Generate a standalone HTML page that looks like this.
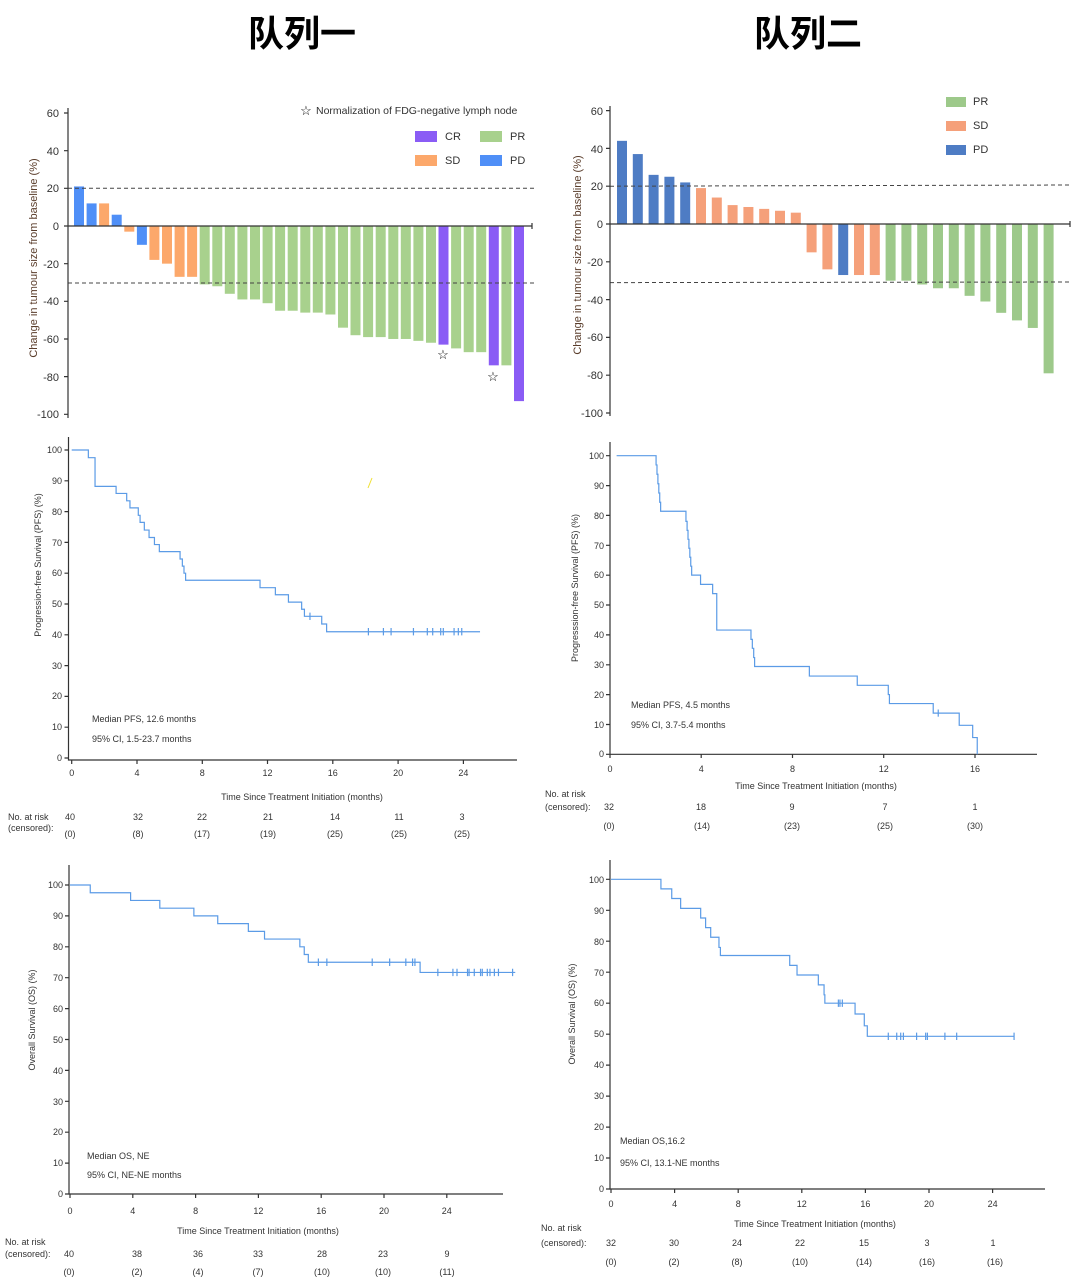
<!DOCTYPE html>
<html><head><meta charset="utf-8"><style>
html,body{margin:0;padding:0;background:#fff;}
svg{display:block;font-family:"Liberation Sans",Arial,sans-serif;}
.t{font-size:9px;fill:#333;}
.w{font-size:11px;fill:#333;}
.km{fill:none;stroke:#5b9be6;stroke-width:1.2;}
.ax{stroke:#333;stroke-width:1.2;fill:none;}
</style></head><body>
<svg width="1080" height="1285" viewBox="0 0 1080 1285" xmlns="http://www.w3.org/2000/svg">
<rect width="1080" height="1285" fill="#fff"/>
<text x="302" y="46" text-anchor="middle" style="font-family:'Noto Sans CJK SC',sans-serif;font-size:36px;font-weight:bold" fill="#000">队列一</text>
<text x="808" y="46" text-anchor="middle" style="font-family:'Noto Sans CJK SC',sans-serif;font-size:36px;font-weight:bold" fill="#000">队列二</text>

<!-- LEFT WATERFALL -->
<g transform="translate(0,226) scale(1,-1.883)">
<rect x="74" y="0" width="10" height="21" fill="#4f8ff7"/>
<rect x="86.6" y="0" width="10" height="12" fill="#4f8ff7"/>
<rect x="99.1" y="0" width="10" height="12" fill="#fca86b"/>
<rect x="111.7" y="0" width="10" height="6" fill="#4f8ff7"/>
<rect x="124.3" y="-3" width="10" height="3" fill="#fca86b"/>
<rect x="136.9" y="-10" width="10" height="10" fill="#4f8ff7"/>
<rect x="149.4" y="-18" width="10" height="18" fill="#fca86b"/>
<rect x="162" y="-20" width="10" height="20" fill="#fca86b"/>
<rect x="174.6" y="-27" width="10" height="27" fill="#fca86b"/>
<rect x="187.1" y="-27" width="10" height="27" fill="#fca86b"/>
<g fill="#a8d18d">
<rect x="199.7" y="-31" width="10" height="31"/>
<rect x="212.3" y="-32" width="10" height="32"/>
<rect x="224.8" y="-36" width="10" height="36"/>
<rect x="237.4" y="-39" width="10" height="39"/>
<rect x="250" y="-39" width="10" height="39"/>
<rect x="262.6" y="-41" width="10" height="41"/>
<rect x="275.1" y="-45" width="10" height="45"/>
<rect x="287.7" y="-45" width="10" height="45"/>
<rect x="300.3" y="-46" width="10" height="46"/>
<rect x="312.8" y="-46" width="10" height="46"/>
<rect x="325.4" y="-47" width="10" height="47"/>
<rect x="338" y="-54" width="10" height="54"/>
<rect x="350.5" y="-58" width="10" height="58"/>
<rect x="363.1" y="-59" width="10" height="59"/>
<rect x="375.7" y="-59" width="10" height="59"/>
<rect x="388.3" y="-60" width="10" height="60"/>
<rect x="400.8" y="-60" width="10" height="60"/>
<rect x="413.4" y="-61" width="10" height="61"/>
<rect x="426" y="-62" width="10" height="62"/>
<rect x="451.1" y="-65" width="10" height="65"/>
<rect x="463.7" y="-67" width="10" height="67"/>
<rect x="476.2" y="-67" width="10" height="67"/>
<rect x="501.4" y="-74" width="10" height="74"/>
</g>
<g fill="#8a5cf5">
<rect x="438.5" y="-63" width="10" height="63"/>
<rect x="488.8" y="-74" width="10" height="74"/>
<rect x="514" y="-93" width="10" height="93"/>
</g>
</g>
<line x1="68" y1="188.3" x2="535" y2="188.3" stroke="#444" stroke-dasharray="4,3" stroke-width="1"/>
<line x1="68" y1="283" x2="537" y2="283" stroke="#444" stroke-dasharray="4,3" stroke-width="1"/>
<path class="ax" d="M68,108 V418 M68,226 H532 M532,223 V229"/>
<g class="ax"><path d="M64,113H68M64,150.7H68M64,188.3H68M64,226H68M64,263.7H68M64,301.3H68M64,339H68M64,376.6H68M64,414.3H68"/></g>
<g class="w" text-anchor="end">
<text x="59" y="117">60</text><text x="59" y="155">40</text><text x="59" y="192">20</text><text x="59" y="230">0</text><text x="59" y="268">-20</text><text x="59" y="305">-40</text><text x="59" y="343">-60</text><text x="59" y="381">-80</text><text x="59" y="418">-100</text>
</g>
<text transform="translate(37,258) rotate(-90)" text-anchor="middle" style="font-size:11px" fill="#5a3d2b">Change in tumour size from baseline (%)</text>
<text x="443" y="359" text-anchor="middle" style="font-size:13px" fill="#000">☆</text>
<text x="493" y="381" text-anchor="middle" style="font-size:13px" fill="#000">☆</text>
<text x="306" y="115" text-anchor="middle" style="font-size:13px" fill="#000">☆</text>
<text x="316" y="114" style="font-size:10.5px" fill="#333">Normalization of FDG-negative lymph node</text>
<rect x="415" y="131" width="22" height="11" fill="#8a5cf5"/><text x="445" y="140" class="w">CR</text>
<rect x="480" y="131" width="22" height="11" fill="#a8d18d"/><text x="510" y="140" class="w">PR</text>
<rect x="415" y="155" width="22" height="11" fill="#fca86b"/><text x="445" y="164" class="w">SD</text>
<rect x="480" y="155" width="22" height="11" fill="#4f8ff7"/><text x="510" y="164" class="w">PD</text>

<!-- RIGHT WATERFALL -->
<g transform="translate(0,224) scale(1,-1.89)">
<g fill="#4e7cc4">
<rect x="617" y="0" width="10" height="44"/>
<rect x="632.8" y="0" width="10" height="37"/>
<rect x="648.6" y="0" width="10" height="26"/>
<rect x="664.4" y="0" width="10" height="25"/>
<rect x="680.2" y="0" width="10" height="22"/>
<rect x="838.2" y="-27" width="10" height="27"/>
</g>
<g fill="#f5a07a">
<rect x="696" y="0" width="10" height="19"/>
<rect x="711.8" y="0" width="10" height="14"/>
<rect x="727.6" y="0" width="10" height="10"/>
<rect x="743.4" y="0" width="10" height="9"/>
<rect x="759.2" y="0" width="10" height="8"/>
<rect x="775" y="0" width="10" height="7"/>
<rect x="790.8" y="0" width="10" height="6"/>
<rect x="806.6" y="-15" width="10" height="15"/>
<rect x="822.4" y="-24" width="10" height="24"/>
<rect x="854" y="-27" width="10" height="27"/>
<rect x="869.8" y="-27" width="10" height="27"/>
</g>
<g fill="#9dc98a">
<rect x="885.6" y="-30" width="10" height="30"/>
<rect x="901.4" y="-30" width="10" height="30"/>
<rect x="917.2" y="-32" width="10" height="32"/>
<rect x="933" y="-34" width="10" height="34"/>
<rect x="948.8" y="-34" width="10" height="34"/>
<rect x="964.6" y="-38" width="10" height="38"/>
<rect x="980.4" y="-41" width="10" height="41"/>
<rect x="996.2" y="-47" width="10" height="47"/>
<rect x="1012" y="-51" width="10" height="51"/>
<rect x="1027.8" y="-55" width="10" height="55"/>
<rect x="1043.6" y="-79" width="10" height="79"/>
</g>
</g>
<line x1="610" y1="186.2" x2="1072" y2="185" stroke="#444" stroke-dasharray="4,3" stroke-width="1"/>
<line x1="610" y1="282.6" x2="1072" y2="282" stroke="#444" stroke-dasharray="4,3" stroke-width="1"/>
<path class="ax" d="M610,106 V416 M610,224 H1070 M1070,221 V227"/>
<g class="ax"><path d="M606,110.6H610M606,148.4H610M606,186.2H610M606,224H610M606,261.8H610M606,299.6H610M606,337.4H610M606,375.2H610M606,413H610"/></g>
<g class="w" text-anchor="end">
<text x="603" y="115">60</text><text x="603" y="153">40</text><text x="603" y="190">20</text><text x="603" y="228">0</text><text x="603" y="266">-20</text><text x="603" y="304">-40</text><text x="603" y="341">-60</text><text x="603" y="379">-80</text><text x="603" y="417">-100</text>
</g>
<text transform="translate(581,255) rotate(-90)" text-anchor="middle" style="font-size:11px" fill="#5a3d2b">Change in tumour size from baseline (%)</text>
<rect x="946" y="97" width="20" height="10" fill="#9dc98a"/><text x="973" y="105" class="w">PR</text>
<rect x="946" y="121" width="20" height="10" fill="#f5a07a"/><text x="973" y="129" class="w">SD</text>
<rect x="946" y="145" width="20" height="10" fill="#4e7cc4"/><text x="973" y="153" class="w">PD</text>

<!-- LEFT PFS -->
<path class="ax" d="M68.5,437 V760 H517"/>
<path class="ax" d="M64.5,450H68.5M64.5,480.8H68.5M64.5,511.6H68.5M64.5,542.4H68.5M64.5,573.2H68.5M64.5,604H68.5M64.5,634.8H68.5M64.5,665.6H68.5M64.5,696.4H68.5M64.5,727.2H68.5M64.5,758H68.5 M71.7,760V764M137,760V764M202.3,760V764M267.5,760V764M332.8,760V764M398.1,760V764M463.4,760V764"/>
<g class="t" text-anchor="end">
<text x="62" y="453">100</text><text x="62" y="484">90</text><text x="62" y="515">80</text><text x="62" y="546">70</text><text x="62" y="576">60</text><text x="62" y="607">50</text><text x="62" y="638">40</text><text x="62" y="669">30</text><text x="62" y="699">20</text><text x="62" y="730">10</text><text x="62" y="761">0</text>
</g>
<g class="t" text-anchor="middle">
<text x="71.7" y="776">0</text><text x="137" y="776">4</text><text x="202.3" y="776">8</text><text x="267.5" y="776">12</text><text x="332.8" y="776">16</text><text x="398.1" y="776">20</text><text x="463.4" y="776">24</text>
<text x="302" y="800">Time Since Treatment Initiation (months)</text>
<text x="70" y="820">40</text><text x="138" y="820">32</text><text x="202" y="820">22</text><text x="268" y="820">21</text><text x="335" y="820">14</text><text x="399" y="820">11</text><text x="462" y="820">3</text>
<text x="70" y="837">(0)</text><text x="138" y="837">(8)</text><text x="202" y="837">(17)</text><text x="268" y="837">(19)</text><text x="335" y="837">(25)</text><text x="399" y="837">(25)</text><text x="462" y="837">(25)</text>
</g>
<text x="8" y="820" class="t">No. at risk</text><text x="8" y="831" class="t">(censored):</text>
<text x="92" y="722" class="t">Median PFS, 12.6 months</text>
<text x="92" y="742" class="t">95% CI, 1.5-23.7 months</text>
<text transform="translate(41,565) rotate(-90)" text-anchor="middle" class="t">Progression-free Survival (PFS) (%)</text>
<line x1="368" y1="488" x2="372" y2="478" stroke="#f0e030" stroke-width="1"/>
<g transform="translate(71.7,758) scale(16.32,-3.08)">
<path class="km" vector-effect="non-scaling-stroke" d="M0,100 H1.02 V97.5 H1.43 V88.2 H2.72 V85.9 H3.37 V83.5 H3.57 V81.2 H4.08 V78.8 H4.19 V76.5 H4.45 V74 H4.74 V71.6 H5.07 V69.3 H5.37 V67 H6.64 V64.6 H6.78 V62.3 H6.88 V60 H6.98 V57.7 H11.54 V55.3 H12.48 V53 H13.28 V50.6 H14.09 V48.3 H14.26 V46 H15.32 V43.5 H15.62 V41 H25.02"/>
<path class="km" vector-effect="non-scaling-stroke" d="M14.6,44.8v2.4 M18.18,39.8v2.4 M19.1,39.8v2.4 M19.57,39.8v2.4 M20.94,39.8v2.4 M21.79,39.8v2.4 M22.12,39.8v2.4 M22.61,39.8v2.4 M22.77,39.8v2.4 M23.43,39.8v2.4 M23.69,39.8v2.4 M23.9,39.8v2.4"/>
</g>

<!-- RIGHT PFS -->
<path class="ax" d="M610,442 V754.3 H1037"/>
<path class="ax" d="M606,455.7H610M606,485.6H610M606,515.4H610M606,545.3H610M606,575.2H610M606,605H610M606,634.9H610M606,664.8H610M606,694.6H610M606,724.5H610M606,754.3H610 M610,754.3V758M701.2,754.3V758M792.5,754.3V758M883.7,754.3V758M975,754.3V758"/>
<g class="t" text-anchor="end">
<text x="604" y="459">100</text><text x="604" y="489">90</text><text x="604" y="519">80</text><text x="604" y="549">70</text><text x="604" y="578">60</text><text x="604" y="608">50</text><text x="604" y="638">40</text><text x="604" y="668">30</text><text x="604" y="698">20</text><text x="604" y="728">10</text><text x="604" y="757">0</text>
</g>
<g class="t" text-anchor="middle">
<text x="610" y="772">0</text><text x="701.2" y="772">4</text><text x="792.5" y="772">8</text><text x="883.7" y="772">12</text><text x="975" y="772">16</text>
<text x="816" y="789">Time Since Treatment Initiation (months)</text>
<text x="609" y="810">32</text><text x="701" y="810">18</text><text x="792" y="810">9</text><text x="885" y="810">7</text><text x="975" y="810">1</text>
<text x="609" y="829">(0)</text><text x="702" y="829">(14)</text><text x="792" y="829">(23)</text><text x="885" y="829">(25)</text><text x="975" y="829">(30)</text>
</g>
<text x="545" y="797" class="t">No. at risk</text><text x="545" y="810" class="t">(censored):</text>
<text x="631" y="708" class="t">Median PFS, 4.5 months</text>
<text x="631" y="728" class="t">95% CI, 3.7-5.4 months</text>
<text transform="translate(578,588) rotate(-90)" text-anchor="middle" class="t">Progresssion-free Survival (PFS) (%)</text>
<g transform="translate(610,754.3) scale(22.81,-2.986)">
<path class="km" vector-effect="non-scaling-stroke" d="M0.29,100 H2.02 V96.9 H2.06 V93.8 H2.1 V90.6 H2.14 V87.5 H2.18 V84.4 H2.22 V81.4 H3.33 V78 H3.38 V75 H3.42 V72 H3.46 V69 H3.5 V66 H3.54 V63 H3.58 V60 H3.97 V56.9 H4.5 V53.8 H4.68 V41.6 H6.18 V38.5 H6.24 V35.5 H6.3 V32.4 H6.34 V29.4 H8.74 V26.2 H10.84 V23.1 H12.2 V20 H12.25 V17 H14.17 V13.8 H15.31 V9.7 H15.9 V5.6 H16.1 V0"/>
<path class="km" vector-effect="non-scaling-stroke" d="M14.39,12.6v2.4"/>
</g>

<!-- LEFT OS -->
<path class="ax" d="M69,865 V1194 H503"/>
<path class="ax" d="M65,885H69M65,915.9H69M65,946.8H69M65,977.7H69M65,1008.6H69M65,1039.5H69M65,1070.4H69M65,1101.3H69M65,1132.2H69M65,1163.1H69M65,1194H69 M70,1194V1198M132.8,1194V1198M195.6,1194V1198M258.4,1194V1198M321.2,1194V1198M384,1194V1198M446.8,1194V1198"/>
<g class="t" text-anchor="end">
<text x="63" y="888">100</text><text x="63" y="919">90</text><text x="63" y="950">80</text><text x="63" y="981">70</text><text x="63" y="1012">60</text><text x="63" y="1043">50</text><text x="63" y="1074">40</text><text x="63" y="1105">30</text><text x="63" y="1135">20</text><text x="63" y="1166">10</text><text x="63" y="1197">0</text>
</g>
<g class="t" text-anchor="middle">
<text x="70" y="1214">0</text><text x="132.8" y="1214">4</text><text x="195.6" y="1214">8</text><text x="258.4" y="1214">12</text><text x="321.2" y="1214">16</text><text x="384" y="1214">20</text><text x="446.8" y="1214">24</text>
<text x="258" y="1234">Time Since Treatment Initiation (months)</text>
<text x="69" y="1257">40</text><text x="137" y="1257">38</text><text x="198" y="1257">36</text><text x="258" y="1257">33</text><text x="322" y="1257">28</text><text x="383" y="1257">23</text><text x="447" y="1257">9</text>
<text x="69" y="1275">(0)</text><text x="137" y="1275">(2)</text><text x="198" y="1275">(4)</text><text x="258" y="1275">(7)</text><text x="322" y="1275">(10)</text><text x="383" y="1275">(10)</text><text x="447" y="1275">(11)</text>
</g>
<text x="5" y="1245" class="t">No. at risk</text><text x="5" y="1257" class="t">(censored):</text>
<text x="87" y="1159" class="t">Median OS, NE</text>
<text x="87" y="1178" class="t">95% CI, NE-NE months</text>
<text transform="translate(35,1020) rotate(-90)" text-anchor="middle" class="t">Overall Survival (OS) (%)</text>
<g transform="translate(70,1194) scale(15.7,-3.09)">
<path class="km" vector-effect="non-scaling-stroke" d="M0,100 H1.29 V97.5 H3.86 V95 H5.72 V92.5 H7.89 V90 H9.41 V87.5 H11.36 V85 H12.39 V82.5 H14.64 V80 H14.92 V77.5 H15.18 V75 H22.3 V71.7 H28.36"/>
<path class="km" vector-effect="non-scaling-stroke" d="M15.82,73.8v2.4 M16.36,73.8v2.4 M19.25,73.8v2.4 M20.36,73.8v2.4 M21.39,73.8v2.4 M21.82,73.8v2.4 M21.97,73.8v2.4 M23.43,70.5v2.4 M24.39,70.5v2.4 M24.65,70.5v2.4 M25.32,70.5v2.4 M25.42,70.5v2.4 M25.75,70.5v2.4 M26.15,70.5v2.4 M26.26,70.5v2.4 M26.58,70.5v2.4 M26.75,70.5v2.4 M27.03,70.5v2.4 M27.29,70.5v2.4 M28.19,70.5v2.4"/>
</g>

<!-- RIGHT OS -->
<path class="ax" d="M610,860 V1189 H1045"/>
<path class="ax" d="M606,879.3H610M606,910.3H610M606,941.2H610M606,972.2H610M606,1003.2H610M606,1034.2H610M606,1065.1H610M606,1096.1H610M606,1127.1H610M606,1158H610M606,1189H610 M611,1189V1193M674.6,1189V1193M738.2,1189V1193M801.8,1189V1193M865.4,1189V1193M929,1189V1193M992.6,1189V1193"/>
<g class="t" text-anchor="end">
<text x="604" y="883">100</text><text x="604" y="914">90</text><text x="604" y="945">80</text><text x="604" y="976">70</text><text x="604" y="1006">60</text><text x="604" y="1037">50</text><text x="604" y="1068">40</text><text x="604" y="1099">30</text><text x="604" y="1130">20</text><text x="604" y="1161">10</text><text x="604" y="1192">0</text>
</g>
<g class="t" text-anchor="middle">
<text x="611" y="1207">0</text><text x="674.6" y="1207">4</text><text x="738.2" y="1207">8</text><text x="801.8" y="1207">12</text><text x="865.4" y="1207">16</text><text x="929" y="1207">20</text><text x="992.6" y="1207">24</text>
<text x="815" y="1227">Time Since Treatment Initiation (months)</text>
<text x="611" y="1246">32</text><text x="674" y="1246">30</text><text x="737" y="1246">24</text><text x="800" y="1246">22</text><text x="864" y="1246">15</text><text x="927" y="1246">3</text><text x="993" y="1246">1</text>
<text x="611" y="1265">(0)</text><text x="674" y="1265">(2)</text><text x="737" y="1265">(8)</text><text x="800" y="1265">(10)</text><text x="864" y="1265">(14)</text><text x="927" y="1265">(16)</text><text x="995" y="1265">(16)</text>
</g>
<text x="541" y="1231" class="t">No. at risk</text><text x="541" y="1246" class="t">(censored):</text>
<text x="620" y="1144" class="t">Median OS,16.2</text>
<text x="620" y="1166" class="t">95% CI, 13.1-NE months</text>
<text transform="translate(575,1014) rotate(-90)" text-anchor="middle" class="t">Overall Survival (OS) (%)</text>
<g transform="translate(611,1189) scale(15.9,-3.097)">
<path class="km" vector-effect="non-scaling-stroke" d="M0,100 H3.14 V96.9 H3.82 V93.8 H4.38 V90.6 H5.64 V87.5 H5.95 V84.4 H6.27 V81.3 H6.79 V78 H6.88 V75.4 H11.24 V72.2 H11.7 V69.1 H13.04 V65.9 H13.4 V62.7 H13.45 V60 H15.35 V56.5 H15.93 V52.7 H16.12 V49.3 H25.35"/>
<path class="km" vector-effect="non-scaling-stroke" d="M14.3,58.8v2.4 M14.4,58.8v2.4 M14.55,58.8v2.4 M17.44,48.1v2.4 M17.97,48.1v2.4 M18.22,48.1v2.4 M18.39,48.1v2.4 M19.22,48.1v2.4 M19.79,48.1v2.4 M19.9,48.1v2.4 M21.0,48.1v2.4 M21.74,48.1v2.4 M25.35,48.1v2.4"/>
</g>
</svg>
</body></html>
